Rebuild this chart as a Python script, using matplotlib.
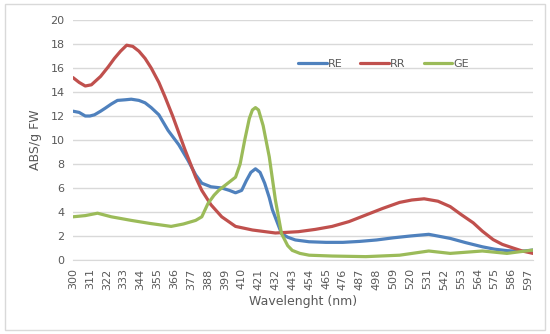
import matplotlib
matplotlib.use("Agg")
import matplotlib.pyplot as plt
from matplotlib.patches import Rectangle

# valores (comprimento de onda em nm, ABS/g FW)
wl_re = [300, 304, 308, 311, 314, 318, 321, 325, 329, 334, 338, 343, 347, 351, 356, 362, 369, 375,
         380, 384, 390, 397, 402, 406, 410, 413, 416, 419, 422, 425, 428, 430, 433, 436, 440, 445,
         454, 465, 476, 487, 498, 509, 520, 532, 546, 556, 567, 575, 583, 592, 600]
re = [12.4, 12.3, 12.0, 12.0, 12.1, 12.4, 12.65, 13.0, 13.3, 13.35, 13.4, 13.3, 13.1, 12.7, 12.1, 10.8, 9.6, 8.3,
      7.1, 6.4, 6.1, 6.0, 5.8, 5.6, 5.8, 6.6, 7.3, 7.6, 7.3, 6.4, 5.2, 4.2, 3.2, 2.2, 1.9, 1.67,
      1.52, 1.47, 1.47, 1.55, 1.67, 1.85, 2.0, 2.14, 1.8, 1.45, 1.1, 0.9, 0.78, 0.72, 0.83]

wl_rr = [300, 304, 308, 312, 318, 323, 327, 331, 335, 339, 343, 347, 351, 356, 360, 365, 369, 373,
         377, 380, 384, 390, 397, 406, 417, 432, 447, 458, 469, 480, 491, 502, 513, 521, 529, 538,
         546, 553, 561, 567, 574, 580, 587, 593, 600]
rr = [15.2, 14.8, 14.5, 14.6, 15.3, 16.1, 16.8, 17.4, 17.9, 17.8, 17.4, 16.8, 16.0, 14.8, 13.6, 12.0, 10.6, 9.2,
      7.9, 6.9, 5.8, 4.6, 3.6, 2.8, 2.5, 2.25, 2.36, 2.55, 2.8, 3.2, 3.75, 4.3, 4.8, 5.0, 5.1, 4.9,
      4.45, 3.8, 3.1, 2.4, 1.7, 1.3, 1.0, 0.75, 0.55]

wl_ge = [300, 308, 316, 325, 338, 350, 364, 372, 380, 384, 388, 392, 395, 400, 406, 409, 412, 415,
         417, 419, 421, 424, 428, 432, 436, 440, 443, 448, 454, 469, 491, 513, 532, 546, 567, 583, 600]
ge = [3.6, 3.7, 3.9, 3.6, 3.3, 3.05, 2.8, 3.0, 3.3, 3.6, 4.7, 5.4, 5.8, 6.3, 6.9, 8.0, 10.0, 11.8,
      12.5, 12.7, 12.5, 11.2, 8.6, 5.0, 2.2, 1.2, 0.8, 0.55, 0.4, 0.33, 0.28, 0.4, 0.75, 0.55, 0.75, 0.55, 0.83]

ticks_x = list(range(300, 598, 11))
ticks_y = list(range(0, 21, 2))

grey = '#595959'
fig = plt.figure(figsize=(5.5, 3.34), dpi=100)
ax = fig.add_axes([73 / 550, 1 - 260 / 334, 460 / 550, 240 / 334])

ax.plot(wl_re, re, color='#4F81BD', lw=2.3, label='RE', solid_capstyle='round')
ax.plot(wl_rr, rr, color='#C0504D', lw=2.3, label='RR', solid_capstyle='round')
ax.plot(wl_ge, ge, color='#9BBB59', lw=2.3, label='GE', solid_capstyle='round')

ax.set_xlim(300, 600)
ax.set_ylim(0, 20)
ax.set_xticks(ticks_x)
ax.set_xticklabels([str(t) for t in ticks_x], rotation=90)
ax.set_yticks(ticks_y)
ax.tick_params(length=0, colors=grey, labelsize=8, pad=6)
ax.grid(axis='y', color='#D9D9D9', lw=1)
ax.set_axisbelow(True)
for s in ['top', 'right', 'left']:
    ax.spines[s].set_visible(False)
ax.spines['bottom'].set_color('#D9D9D9')

ax.set_xlabel('Wavelenght (nm)', color=grey, fontsize=9)
ax.set_ylabel('ABS/g FW', color=grey, fontsize=9, labelpad=6)

leg = ax.legend(loc='center', bbox_to_anchor=(0.675, 0.817), ncol=3, frameon=False,
                fontsize=8, handlelength=2.6, handletextpad=0.1, columnspacing=1.6)
for t in leg.get_texts():
    t.set_color(grey)

fig.patches.append(Rectangle((5 / 550, 4 / 334), 540 / 550, 326 / 334, transform=fig.transFigure,
                             fill=False, edgecolor='#D9D9D9', lw=1))

fig.savefig('out.png', dpi=100)
